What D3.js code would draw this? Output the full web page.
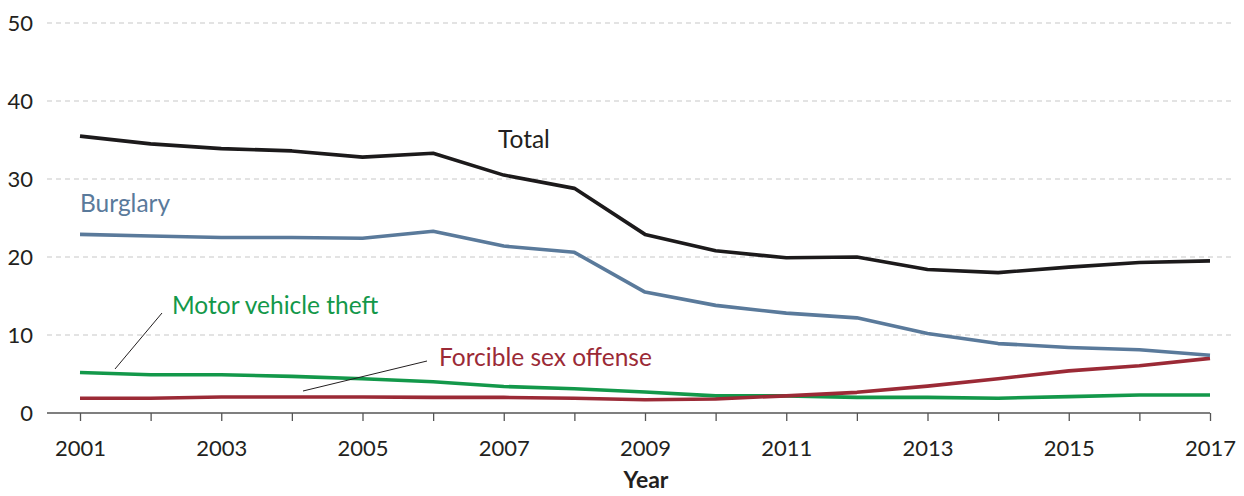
<!DOCTYPE html>
<html lang="en">
<head>
<meta charset="UTF-8">
<title>Crime rates 2001-2017</title>
<style>
  body { margin: 0; background: #fff; }
  text { font-family: Lato, "Open Sans", sans-serif; }
</style>
</head>
<body>
<script src="https://cdn.jsdelivr.net/npm/d3@7"></script>
<script>
// data
var years = d3.range(2001, 2018);
var total     = [35.5, 34.5, 33.9, 33.6, 32.8, 33.3, 30.5, 28.8, 22.9, 20.8, 19.9, 20.0, 18.4, 18.0, 18.7, 19.3, 19.5];
var burglary  = [22.9, 22.7, 22.5, 22.5, 22.4, 23.3, 21.4, 20.6, 15.5, 13.8, 12.8, 12.2, 10.2, 8.9, 8.4, 8.1, 7.4];
var motor     = [5.2, 4.9, 4.9, 4.7, 4.4, 4.0, 3.4, 3.1, 2.7, 2.2, 2.2, 2.0, 2.0, 1.9, 2.1, 2.3, 2.3];
var sexOff    = [1.9, 1.9, 2.05, 2.05, 2.05, 2.0, 2.0, 1.9, 1.7, 1.8, 2.2, 2.65, 3.45, 4.4, 5.4, 6.05, 7.0];
var yTicks = [0, 10, 20, 30, 40, 50];
var xLabels = [2001, 2003, 2005, 2007, 2009, 2011, 2013, 2015, 2017];

var W = 1244, H = 496;
var svg = d3.select('body').append('svg').attr('width', W).attr('height', H);

var x = d3.scaleLinear().domain([2001, 2017]).range([80, 1210]);
var y = d3.scaleLinear().domain([0, 50]).range([413, 23]);

// grid lines
svg.append('g').selectAll('line').data(yTicks.filter(function (d) { return d > 0; }))
  .enter().append('line')
  .attr('x1', 47).attr('x2', 1231)
  .attr('y1', function (d) { return y(d); }).attr('y2', function (d) { return y(d); })
  .attr('stroke', '#c8c8c8').attr('stroke-width', 1.2).attr('stroke-dasharray', '5,4');

// y labels
svg.append('g').selectAll('text').data(yTicks).enter().append('text')
  .attr('x', 33).attr('y', function (d) { return y(d); })
  .attr('dy', '0.36em').attr('text-anchor', 'end')
  .attr('font-size', 22).attr('fill', '#231f20')
  .text(function (d) { return d; });

// x axis
var xAxis = d3.axisBottom(x).tickValues(years).tickSize(8).tickFormat(function (d) {
  return xLabels.indexOf(d) >= 0 ? d : '';
});
var gx = svg.append('g').attr('transform', 'translate(0,' + y(0) + ')').call(xAxis);
gx.select('.domain').remove();
gx.selectAll('.tick line').attr('stroke', '#555').attr('stroke-width', 1.3);
gx.selectAll('.tick text').attr('font-size', 22).attr('fill', '#231f20')
  .attr('font-family', 'Lato, "Open Sans", sans-serif').attr('dy', '1.45em');
svg.append('line').attr('x1', 47).attr('x2', x(2017))
  .attr('y1', y(0)).attr('y2', y(0)).attr('stroke', '#555').attr('stroke-width', 1.3);

svg.append('text').attr('x', x(2009) + 1).attr('y', 488).attr('text-anchor', 'middle')
  .attr('font-size', 23).attr('font-weight', 'bold').attr('fill', '#231f20').text('Year');

// lines
var line = d3.line().x(function (d, i) { return x(years[i]); }).y(function (d) { return y(d); });
var series = [
  { v: motor, c: '#13984a' },
  { v: sexOff, c: '#9b2a36' },
  { v: burglary, c: '#5a7a9b' },
  { v: total, c: '#1c1a1b' }
];
series.forEach(function (s) {
  svg.append('path').datum(s.v).attr('d', line)
    .attr('fill', 'none').attr('stroke', s.c).attr('stroke-width', 3.6)
    .attr('stroke-linejoin', 'round');
});

// labels
var lblSize = 24.5;
svg.append('text').attr('x', 498).attr('y', 148).attr('font-size', lblSize).attr('fill', '#231f20').text('Total');
svg.append('text').attr('x', 80).attr('y', 212).attr('font-size', lblSize).attr('fill', '#5a7a9b').text('Burglary');
svg.append('text').attr('x', 172).attr('y', 314).attr('font-size', lblSize).attr('fill', '#13984a').text('Motor vehicle theft');
svg.append('text').attr('x', 439).attr('y', 366).attr('font-size', lblSize).attr('fill', '#9b2a36').text('Forcible sex offense');

// leader lines
svg.append('line').attr('x1', 162).attr('y1', 313).attr('x2', 115).attr('y2', 369)
  .attr('stroke', '#231f20').attr('stroke-width', 1);
svg.append('line').attr('x1', 303).attr('y1', 391).attr('x2', 427).attr('y2', 361)
  .attr('stroke', '#231f20').attr('stroke-width', 1);
</script>
</body>
</html>
